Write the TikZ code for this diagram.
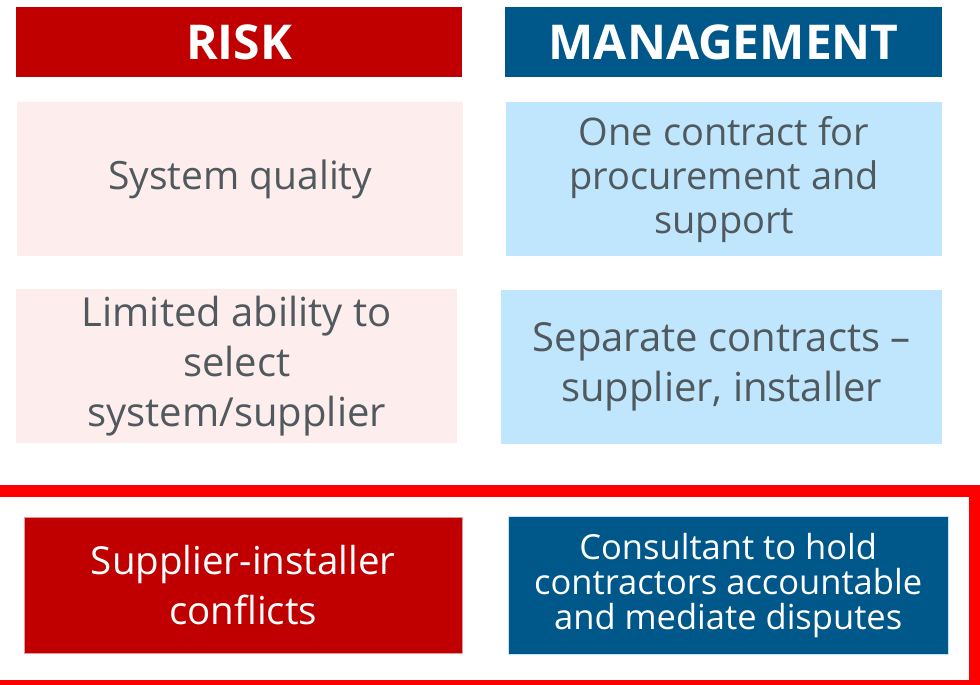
\documentclass[tikz,border=0pt]{standalone}
\usepackage{fontspec}
\setmainfont{Open Sans}
\usetikzlibrary{positioning}

\definecolor{riskred}{HTML}{C00000}
\definecolor{mgmtblue}{HTML}{00578A}
\definecolor{riskpink}{HTML}{FDEDED}
\definecolor{mgmtsky}{HTML}{BFE6FC}
\definecolor{bodygray}{HTML}{50595E}
\definecolor{framered}{HTML}{FF0000}

\tikzset{
  head/.style={anchor=north west, inner sep=0pt, text=white, font=\fontsize{48}{54}\selectfont\bfseries},
  cell/.style={anchor=north west, inner sep=0pt, align=center, text=bodygray, font=\fontsize{40}{50}\selectfont},
  keycell/.style={anchor=north west, inner sep=0pt, align=center, text=white, font=\fontsize{38.5}{50}\selectfont}
}

\begin{document}
\begin{tikzpicture}[x=1pt,y=-1pt]
		\useasboundingbox (0,0) rectangle (980,685);
		\clip (0,0) rectangle (980,685);

		% column headings
		\node[head, fill=riskred, minimum width=446, minimum height=70] (risk) at (16,7) {RISK};
		\node[head, fill=mgmtblue, minimum width=437, minimum height=70] (mgmt) at (505,7) {MANAGEMENT};

		% row 1
		\node[cell, fill=riskpink, minimum width=446, minimum height=154, font=\fontsize{39}{50}\selectfont] (quality) at (17,102) {System quality};
		\node[cell, fill=mgmtsky, minimum width=436, minimum height=154, font=\fontsize{38}{44}\selectfont] (onecontract) at (506,102) {One contract for\\procurement and\\support};

		% row 2
		\node[cell, fill=riskpink, minimum width=441, minimum height=154] (limited) at (16,289) {Limited ability to\\select\\system/supplier};
		\node[cell, fill=mgmtsky, minimum width=441, minimum height=154] (separate) at (501,290) {Separate contracts --\\supplier, installer};

		% highlighted row
		\draw[framered, line width=12] (-20,491) rectangle (975,686);
		\node[keycell, fill=riskred, draw=riskred!40, minimum width=438, minimum height=136] (conflicts) at (24,517) {Supplier-installer\\conflicts};
		\node[keycell, fill=mgmtblue, draw=mgmtsky, minimum width=440, minimum height=138, font=\fontsize{34.5}{35}\selectfont] (consultant) at (508,516) {Consultant to hold\\contractors accountable\\and mediate disputes};
	\end{tikzpicture}
\end{document}
